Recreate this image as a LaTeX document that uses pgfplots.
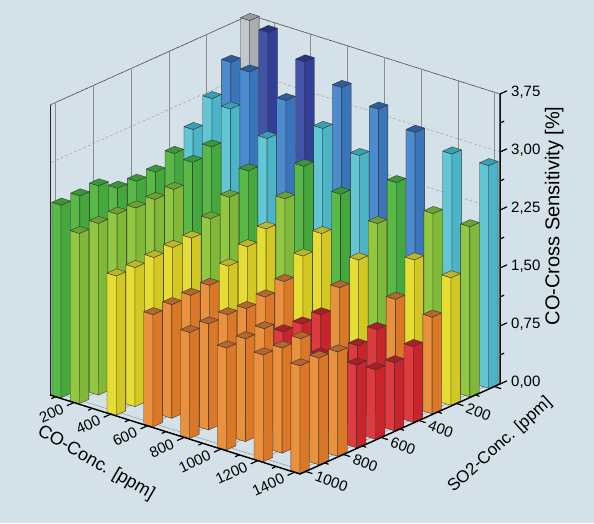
\documentclass[border=0pt]{standalone}
\usepackage{pgfplots}
\pgfplotsset{compat=1.18}
\usepackage{pgfplotstable}
\usepackage{fontspec}
\setmainfont{Liberation Sans}
\usetikzlibrary{backgrounds}

\definecolor{bg}{HTML}{D4E1E9}
\definecolor{Lred}{HTML}{DE3B40}\definecolor{Rred}{HTML}{C9232B}\definecolor{Tred}{HTML}{A81F24}
\definecolor{Lorange}{HTML}{E9913D}\definecolor{Rorange}{HTML}{DB7828}\definecolor{Torange}{HTML}{B5652E}
\definecolor{Lyellow}{HTML}{E6DC34}\definecolor{Ryellow}{HTML}{D2C821}\definecolor{Tyellow}{HTML}{BDB52A}
\definecolor{Llgreen}{HTML}{92C741}\definecolor{Rlgreen}{HTML}{7FB937}\definecolor{Tlgreen}{HTML}{6BA333}
\definecolor{Lgreen}{HTML}{58B947}\definecolor{Rgreen}{HTML}{45A83D}\definecolor{Tgreen}{HTML}{3B9639}
\definecolor{Lcyan}{HTML}{62C6D5}\definecolor{Rcyan}{HTML}{4BB5C7}\definecolor{Tcyan}{HTML}{3A9FB2}
\definecolor{Lblue}{HTML}{4C8CCE}\definecolor{Rblue}{HTML}{3A74BA}\definecolor{Tblue}{HTML}{2C5D9E}
\definecolor{Ldblue}{HTML}{4453AA}\definecolor{Rdblue}{HTML}{323F99}\definecolor{Tdblue}{HTML}{283385}
\definecolor{Lgray}{HTML}{C3C7CB}\definecolor{Rgray}{HTML}{AAAEB3}\definecolor{Tgray}{HTML}{979BA0}

% rows: CO concentration [ppm]; columns: SO2 concentration [ppm]
\pgfplotstableread{
co   s0   s100 s200 s300 s400 s500 s600 s700 s800 s900 s1000
100  3.78 3.35 2.99 2.70 2.50 2.37 2.36 2.38 2.52 2.50 2.49
200  3.70 3.30 2.93 2.55 2.46 2.22 2.20 2.20 2.23 2.22 2.20
400  3.47 3.08 2.70 2.39 2.16 1.99 1.85 1.84 1.82 1.80 1.80
600  3.29 2.87 2.49 2.18 1.90 1.78 1.64 1.50 1.48 1.47 1.45
800  3.16 2.67 2.28 1.88 1.70 1.48 1.39 1.35 1.38 1.37 1.37
1000 3.01 2.47 2.05 1.69 1.44 1.20 1.19 1.20 1.35 1.33 1.32
1200 2.88 2.22 1.73 1.33 1.05 0.95 0.92 1.05 1.37 1.36 1.38
1400 2.88 2.20 1.65 1.25 0.98 0.88 0.90 1.07 1.35 1.38 1.39
}\heights

\newcommand\pickcolor[1]{%
  \def\barcol{gray}%
  \ifdim#1pt<3.74pt \def\barcol{dblue}\fi
  \ifdim#1pt<3.40pt \def\barcol{blue}\fi
  \ifdim#1pt<3.00pt \def\barcol{cyan}\fi
  \ifdim#1pt<2.60pt \def\barcol{green}\fi
  \ifdim#1pt<2.24pt \def\barcol{lgreen}\fi
  \ifdim#1pt<1.98pt \def\barcol{yellow}\fi
  \ifdim#1pt<1.55pt \def\barcol{orange}\fi
  \ifdim#1pt<1.22pt \def\barcol{red}\fi
}
\newcommand\drawbar[3]{%
  \pgfmathsetmacro\sa{#1-25}\pgfmathsetmacro\sb{#1+25}%
  \pgfmathsetmacro\ca{#2-25}\pgfmathsetmacro\cb{#2+25}%
  \pickcolor{#3}%
  \edef\tmp{%
    \noexpand\addplot3[barface,fill=L\barcol] coordinates {(\sb,\ca,0) (\sb,\cb,0) (\sb,\cb,#3) (\sb,\ca,#3)} --cycle;
    \noexpand\addplot3[barface,fill=R\barcol] coordinates {(\sa,\cb,0) (\sb,\cb,0) (\sb,\cb,#3) (\sa,\cb,#3)} --cycle;
    \noexpand\addplot3[barface,fill=T\barcol] coordinates {(\sa,\ca,#3) (\sb,\ca,#3) (\sb,\cb,#3) (\sa,\cb,#3)} --cycle;
  }\tmp
}

\begin{document}
\begin{tikzpicture}[show background rectangle, inner frame sep=0pt,
  background rectangle/.style={fill=bg, draw=none},
  tickline/.style={black, line width=1.2pt}]
\begin{axis}[
  x={(-0.18868pt,-0.08491pt)}, y={(0.18382pt,-0.05809pt)}, z={(0pt,77.333pt)},
  disabledatascaling,
  xmin=-30, xmax=1030, ymin=70, ymax=1430, zmin=0, zmax=3.75,
  clip=false,
  barface/.style={draw=black!80, line width=0.35pt, mark=none, line join=round},
  axis line style={black!85, line width=0.5pt},
  xtick={0,200,400,600,800,1000}, xticklabels={,200,400,600,800,1000},
  ytick={200,400,600,800,1000,1200,1400},
  ztick={0,0.75,1.5,2.25,3,3.75},
  zticklabel pos=right,
  major tick length=0pt, minor tick length=0pt,
  xmajorgrids, ymajorgrids, zmajorgrids,
  grid style={black!45, line width=0.4pt},
  z grid style={densely dashed, black!40},
  /pgf/number format/assume math mode=true,
  /pgf/number format/1000 sep={},
  ticklabel style={font=\fontsize{15}{18}\selectfont, inner sep=1pt},
  x tick label style={xshift=9pt, yshift=-4pt, rotate=-20, anchor=west},
  y tick label style={xshift=-10pt, yshift=-5pt, rotate=25, anchor=east},
  z tick label style={xshift=10pt, yshift=2pt, anchor=west, /pgf/number format/.cd, fixed, fixed zerofill, precision=2, use comma, /tikz/.cd},
  xlabel={SO2-Conc. [ppm]}, ylabel={CO-Conc. [ppm]}, zlabel={CO-Cross Sensitivity [\%]},
  every axis x label/.style={at={(axis cs:392,1863,0)}, anchor=center, rotate=42, font=\fontsize{17}{20}\selectfont},
  every axis y label/.style={at={(axis cs:1400,700,0)}, anchor=center, rotate=-30, font=\fontsize{18}{21}\selectfont},
  every axis z label/.style={at={(axis cs:0,1755,2.45)}, anchor=center, rotate=90, font=\fontsize{20}{23}\selectfont},
]
\pgfplotsforeachungrouped \si in {0,1,2,3,4,5,6,7,8,9,10}{%
  \pgfplotsforeachungrouped \ci in {0,1,2,3,4,5,6,7}{%
    \pgfplotstablegetelem{\ci}{co}\of\heights \let\cval\pgfplotsretval
    \pgfmathtruncatemacro\sval{\si*100}%
    \pgfplotstablegetelem{\ci}{s\sval}\of\heights \let\hval\pgfplotsretval
    \drawbar{\sval}{\cval}{\hval}%
  }%
}
\draw[line width=1.4pt, black] (axis cs:1030,70,0) -- (axis cs:1030,1430,0) -- (axis cs:-30,1430,0) -- (axis cs:-30,1430,3.75);
% tick marks
\pgfplotsforeachungrouped \t in {200,400,600,800,1000,1200,1400}{\edef\tmp{\noexpand\draw[tickline] (axis cs:1030,\t,0) -- (axis cs:1067,\t,0);}\tmp}
\pgfplotsforeachungrouped \t in {100,300,500,700,900,1100,1300}{\edef\tmp{\noexpand\draw[tickline] (axis cs:1030,\t,0) -- (axis cs:1052,\t,0);}\tmp}
\pgfplotsforeachungrouped \t in {0,200,400,600,800,1000}{\edef\tmp{\noexpand\draw[tickline] (axis cs:\t,1430,0) -- (axis cs:\t,1467,0);}\tmp}
\pgfplotsforeachungrouped \t in {100,300,500,700,900}{\edef\tmp{\noexpand\draw[tickline] (axis cs:\t,1430,0) -- (axis cs:\t,1452,0);}\tmp}
\pgfplotsforeachungrouped \t in {0,0.75,1.5,2.25,3,3.75}{\edef\tmp{\noexpand\draw[tickline] (axis cs:-30,1430,\t) -- (axis cs:-67,1430,\t);}\tmp}
\pgfplotsforeachungrouped \t in {0.375,1.125,1.875,2.625,3.375}{\edef\tmp{\noexpand\draw[tickline] (axis cs:-30,1430,\t) -- (axis cs:-52,1430,\t);}\tmp}
\coordinate (Fc) at (axis cs:1030,1430,0);
\end{axis}
\pgfresetboundingbox
\path ([shift={(-300pt,-49pt)}]Fc) rectangle ([shift={(294pt,474pt)}]Fc);
\end{tikzpicture}
\end{document}
